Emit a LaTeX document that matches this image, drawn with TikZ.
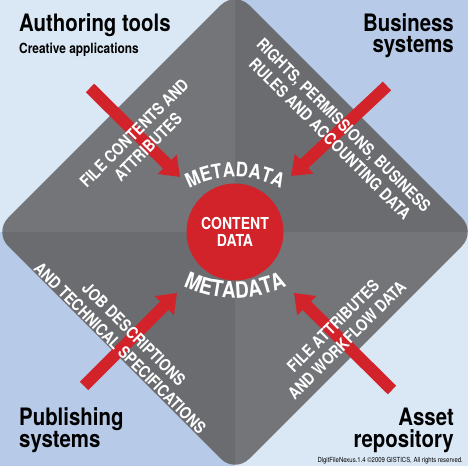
\documentclass[tikz,border=0pt]{standalone}
\usepackage{fontspec}
\setmainfont{TeX Gyre Heros}[FakeStretch=0.85]
\usepackage{tikz}
\usetikzlibrary{arrows.meta,decorations.text}
\definecolor{skylight}{HTML}{DAE8F6}
\definecolor{skydark}{HTML}{B7CAE7}
\definecolor{slatelight}{HTML}{747579}
\definecolor{slatedark}{HTML}{6B6C70}
\definecolor{flowred}{HTML}{D2232A}
\newcommand\mdtop{\color{white}\bfseries\fontsize{20}{20}\selectfont}
\newcommand\mdbottom{\color{white}\bfseries\fontsize{22.5}{22.5}\selectfont}

\begin{document}
\begin{tikzpicture}[
  x=1pt, y=1pt,
  corner/.style={inner sep=0pt, font=\bfseries\fontsize{24}{21.5}\selectfont},
  flowtext/.style={text=white, align=center, inner sep=0pt, font=\bfseries\fontsize{16.5}{19.5}\selectfont},
  arr/.style={flowred, line width=12pt, -{Triangle[length=18pt,width=26pt]}}
]
\useasboundingbox (0,0) rectangle (474,474);
\clip (0,0) rectangle (474,474);
% background quadrants
\fill[white] (0,0) rectangle (474,474);
\fill[skylight] (0,242) rectangle (235,474);
\fill[skydark] (235,242) rectangle (468,474);
\fill[skydark] (0,8) rectangle (235,242);
\fill[skylight] (235,8) rectangle (468,242);
% diamond
\coordinate (hub) at (235,242);
\begin{scope}
  \clip[rounded corners=20pt] (hub) ++(0,241) -- ++(241,-241) -- ++(-241,-241) -- ++(-241,241) -- cycle;
  \fill[slatelight] (hub) rectangle ++(-250,250);
  \fill[slatedark] (hub) rectangle ++(250,250);
  \fill[slatedark] (hub) rectangle ++(-250,-250);
  \fill[slatelight] (hub) rectangle ++(250,-250);
\end{scope}
% arrows into the hub
\coordinate (tl tail) at (90,386);  \coordinate (tl tip) at (180,297);
\coordinate (tr tail) at (387,388); \coordinate (tr tip) at (291,298);
\coordinate (bl tail) at (84,88);   \coordinate (bl tip) at (177,181);
\coordinate (br tail) at (392,84);  \coordinate (br tip) at (294,181);
\draw[arr] (tl tail) -- (tl tip);
\draw[arr] (tr tail) -- (tr tip);
\draw[arr] (bl tail) -- (bl tip);
\draw[arr] (br tail) -- (br tip);
% centre
\node[circle, fill=flowred, minimum size=97pt, inner sep=0pt, text=white, align=center,
  font=\bfseries\fontsize{16.5}{16.5}\selectfont] (core) at (hub) {CONTENT\\DATA};
\coordinate (md top) at (235,199);
\coordinate (md bottom) at (235,294);
\path[decorate, decoration={text along path, text align=center, text={|\mdtop|METADATA}}]
  (md top) ++(160:98) arc[start angle=160, end angle=20, radius=98];
\path[decorate, decoration={text along path, text align=center, text={|\mdbottom|METADATA}}]
  (md bottom) ++(200:118) arc[start angle=200, end angle=340, radius=118];
% flow labels
\node[flowtext, rotate=45] (authoring flow) at (141,334) {FILE CONTENTS AND\\ATTRIBUTES};
\node[flowtext, rotate=-45] (business flow) at (337,342) {RIGHTS, PERMISSIONS, BUSINESS\\RULES AND ACCOUNTING DATA};
\node[flowtext, rotate=-45] (publishing flow) at (127,133) {JOB DESCRIPTIONS\\AND TECHNICAL SPECIFICATIONS};
\node[flowtext, rotate=45] (asset flow) at (340,141) {FILE ATTRIBUTES\\AND WORKFLOW DATA};
% corner labels
\node[corner, anchor=base west] (authoring) at (19,442) {Authoring tools};
\node[anchor=base west, inner sep=0pt, font=\bfseries\fontsize{14}{15}\selectfont] (creative) at (19,420) {Creative applications};
\node[corner, anchor=base east, align=right] (business) at (454,421) {Business\\systems};
\node[corner, anchor=base west, align=left] (publishing) at (19,27) {Publishing\\systems};
\node[corner, anchor=base east, align=right] (asset) at (454,27) {Asset\\repository};
\node[anchor=base east, inner sep=0pt, font=\fontsize{7}{7}\selectfont] (credit) at (463,12) {DigitFileNexus.1.4 ©2009 GISTICS, All rights reserved.};
\end{tikzpicture}
\end{document}
